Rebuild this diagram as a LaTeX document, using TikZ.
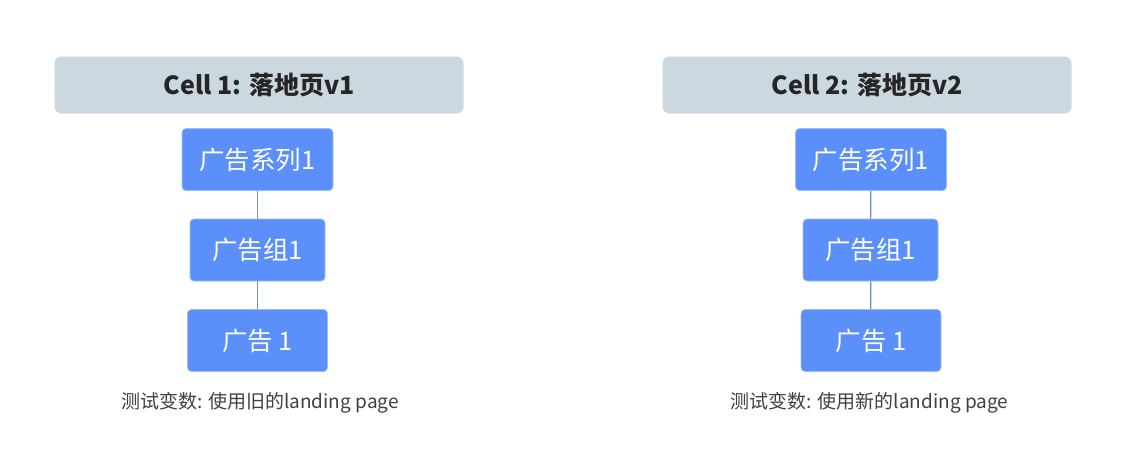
\documentclass[tikz,border=0pt]{standalone}
\usepackage{fontspec}
\setmainfont{Noto Sans CJK SC}
\usetikzlibrary{positioning}
\definecolor{cellgray}{HTML}{CBD8DF}
\definecolor{adblue}{HTML}{5B8FF9}
\definecolor{linkblue}{HTML}{6A8FD8}
\definecolor{headtext}{HTML}{262626}
\definecolor{notetext}{HTML}{404040}

\begin{document}
\begin{tikzpicture}[
    x=1pt,y=-1pt,
    cell head/.style={rectangle,rounded corners=7pt,fill=cellgray,minimum width=409pt,minimum height=57pt,inner sep=0pt,text=headtext,font=\fontsize{25}{28}\selectfont\bfseries},
    ad node/.style={rectangle,rounded corners=4pt,fill=adblue,draw=adblue!60!white,line width=0.6pt,minimum height=62pt,inner sep=0pt,text=white,font=\fontsize{25.5}{28}\selectfont},
    ad link/.style={linkblue,line width=1.2pt},
    note text/.style={text=notetext,inner sep=0pt,font=\fontsize{19}{22}\selectfont}
]

% Rahmen
\useasboundingbox (0,0) rectangle (1132,459);

% Cell 1
\node[cell head] (head1) at (259,85) {Cell 1: 落地页v1};
\node[ad node,minimum width=151pt] (camp1) at (257.5,159.5) {广告系列1};
\node[ad node,minimum width=135pt] (group1) at (257.5,250) {广告组1};
\node[ad node,minimum width=140pt] (ad1) at (257.5,340.5) {广告 1};
\node[note text] (note1) at (260,403) {测试变数: 使用旧的landing page};

% Cell 2
\node[cell head] (head2) at (867,85) {Cell 2: 落地页v2};
\node[ad node,minimum width=151pt] (camp2) at (871,159.5) {广告系列1};
\node[ad node,minimum width=135pt] (group2) at (870.5,250) {广告组1};
\node[ad node,minimum width=140pt] (ad2) at (871,340.5) {广告 1};
\node[note text] (note2) at (869.5,403) {测试变数: 使用新的landing page};

% Verbindungen
\draw[ad link] (camp1) -- (group1);
\draw[ad link] (group1) -- (ad1);
\draw[ad link] (camp2) -- (group2);
\draw[ad link] (group2) -- (ad2);

\end{tikzpicture}
\end{document}
